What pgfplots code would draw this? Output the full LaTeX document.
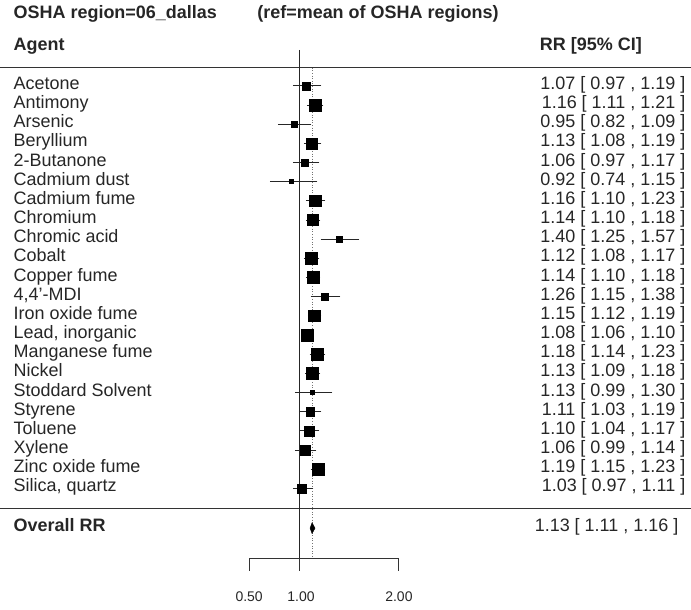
\documentclass[border=0pt]{standalone}
\usepackage{fontspec}
\setmainfont{Liberation Sans}
\usepackage{pgfplots}
\usepackage{pgfplotstable}
\pgfplotsset{compat=1.18}

% row  est   lo    hi    half-side of the square (pt)
\pgfplotstableread{
row est lo hi sz
1  1.07 0.97 1.19 4.0
2  1.16 1.11 1.21 6.0
3  0.95 0.82 1.09 3.3
4  1.13 1.08 1.19 5.5
5  1.06 0.97 1.17 3.5
6  0.92 0.74 1.15 2.0
7  1.16 1.10 1.23 5.8
8  1.14 1.10 1.18 5.5
9  1.40 1.25 1.57 3.0
10 1.12 1.08 1.17 5.8
11 1.14 1.10 1.18 5.8
12 1.26 1.15 1.38 3.6
13 1.15 1.12 1.19 5.8
14 1.08 1.06 1.10 6.2
15 1.18 1.14 1.23 6.0
16 1.13 1.09 1.18 5.8
17 1.13 0.99 1.30 2.0
18 1.11 1.03 1.19 4.3
19 1.10 1.04 1.17 5.0
20 1.06 0.99 1.14 4.8
21 1.19 1.15 1.23 6.0
22 1.03 0.97 1.11 4.5
}\agents

% pooled estimate drawn as a diamond
\pgfplotstableread{
x y
1.11 24.08
1.13 23.80
1.16 24.08
1.13 24.36
1.11 24.08
}\overall

\begin{document}
\begin{tikzpicture}[
  lab/.style={font=\fontsize{18}{18}\selectfont, text height=0.716em, text depth=0pt, inner sep=0pt, text=black!85},
  labb/.style={lab, font=\fontsize{18}{18}\selectfont\bfseries},
  tlab/.style={lab, font=\fontsize{14}{14}\selectfont}]
\begin{axis}[
  width=691pt, height=610pt, scale only axis,
  xmin=-1.99, xmax=4.92,
  ymin=-3.48, ymax=28.31, y dir=reverse,
  axis lines=none, clip=false,
]
% keep the full panel as the picture's extent
\path (axis cs:-1.99,-3.48) rectangle (axis cs:4.92,28.31);
% frame lines
\draw[black!80, line width=0.9pt] (axis cs:-1.99,0.06) -- (axis cs:4.92,0.06);
\draw[black!80, line width=0.9pt] (axis cs:-1.99,23.04) -- (axis cs:4.92,23.04);
\draw[black!85, line width=0.9pt] (axis cs:1,-0.88) -- (axis cs:1,25.65);
\draw[black!55, line width=0.8pt, dash pattern=on 1pt off 1.6pt] (axis cs:1.13,0.06) -- (axis cs:1.13,25.65);
% x axis
\draw[black!80, line width=0.9pt] (axis cs:0.5,25.65) -- (axis cs:2,25.65);
\draw[black!80, line width=0.9pt] (axis cs:0.5,25.65) -- (axis cs:0.5,26.33);
\draw[black!80, line width=0.9pt] (axis cs:1,25.65) -- (axis cs:1,26.33);
\draw[black!80, line width=0.9pt] (axis cs:2,25.65) -- (axis cs:2,26.33);
\node[tlab] at (axis cs:0.5,27.73) {0.50};
\node[tlab] at (axis cs:1.02,27.73) {1.00};
\node[tlab] at (axis cs:2,27.73) {2.00};

% estimates with confidence intervals
\addplot[black, only marks, mark=square*, scatter,
  scatter/use mapped color={draw=black, fill=black},
  visualization depends on={\thisrow{sz} \as \sz},
  scatter/@pre marker code/.append style={/tikz/mark size=\sz pt},
  error bars/.cd, x dir=both, x explicit,
  error bar style={line width=0.8pt, black!85},
  error mark options={line width=0.8pt, black!85, mark size=3.3pt}]
  table[x=est, y=row,
    x error plus expr=\thisrow{hi}-\thisrow{est},
    x error minus expr=\thisrow{est}-\thisrow{lo}] {\agents};

\addplot[black, fill=black, line width=0.4pt] table[x=x, y=y] {\overall} -- cycle;

% headers
\node[labb, anchor=west] at (axis cs:-1.86,-2.70) {OSHA region=06\_dallas};
\node[labb, anchor=west] at (axis cs:0.58,-2.70) {(ref=mean of OSHA regions)};
\node[labb, anchor=west] at (axis cs:-1.86,-1.03) {Agent};
\node[labb, anchor=west] at (axis cs:3.41,-1.03) {RR [95\% CI]};

% agent names
\foreach \rw/\name in {1/Acetone, 2/Antimony, 3/Arsenic, 4/Beryllium, 5/2-Butanone,
  6/Cadmium dust, 7/Cadmium fume, 8/Chromium, 9/Chromic acid, 10/Cobalt,
  11/Copper fume, 12/{4,4'-MDI}, 13/Iron oxide fume, 14/{Lead, inorganic},
  15/Manganese fume, 16/Nickel, 17/Stoddard Solvent, 18/Styrene, 19/Toluene,
  20/Xylene, 21/Zinc oxide fume, 22/{Silica, quartz}}
  {\edef\tmp{\noexpand\node[lab, anchor=west] at (axis cs:-1.86,\rw)
     {\unexpanded\expandafter{\name}};}\tmp}
\node[labb, anchor=west] at (axis cs:-1.86,24.08) {Overall RR};

% estimates as text
\foreach \rw/\txt in {1/{1.07 [ 0.97 , 1.19 ]}, 2/{1.16 [ 1.11 , 1.21 ]},
  3/{0.95 [ 0.82 , 1.09 ]}, 4/{1.13 [ 1.08 , 1.19 ]}, 5/{1.06 [ 0.97 , 1.17 ]},
  6/{0.92 [ 0.74 , 1.15 ]}, 7/{1.16 [ 1.10 , 1.23 ]}, 8/{1.14 [ 1.10 , 1.18 ]},
  9/{1.40 [ 1.25 , 1.57 ]}, 10/{1.12 [ 1.08 , 1.17 ]}, 11/{1.14 [ 1.10 , 1.18 ]},
  12/{1.26 [ 1.15 , 1.38 ]}, 13/{1.15 [ 1.12 , 1.19 ]}, 14/{1.08 [ 1.06 , 1.10 ]},
  15/{1.18 [ 1.14 , 1.23 ]}, 16/{1.13 [ 1.09 , 1.18 ]}, 17/{1.13 [ 0.99 , 1.30 ]},
  18/{1.11 [ 1.03 , 1.19 ]}, 19/{1.10 [ 1.04 , 1.17 ]}, 20/{1.06 [ 0.99 , 1.14 ]},
  21/{1.19 [ 1.15 , 1.23 ]}, 22/{1.03 [ 0.97 , 1.11 ]}}
  {\edef\tmp{\noexpand\node[lab, anchor=east] at (axis cs:4.87,\rw)
     {\unexpanded\expandafter{\txt}};}\tmp}
\node[lab, anchor=east] at (axis cs:4.80,24.08) {1.13 [ 1.11 , 1.16 ]};
\end{axis}
\end{tikzpicture}
\end{document}
